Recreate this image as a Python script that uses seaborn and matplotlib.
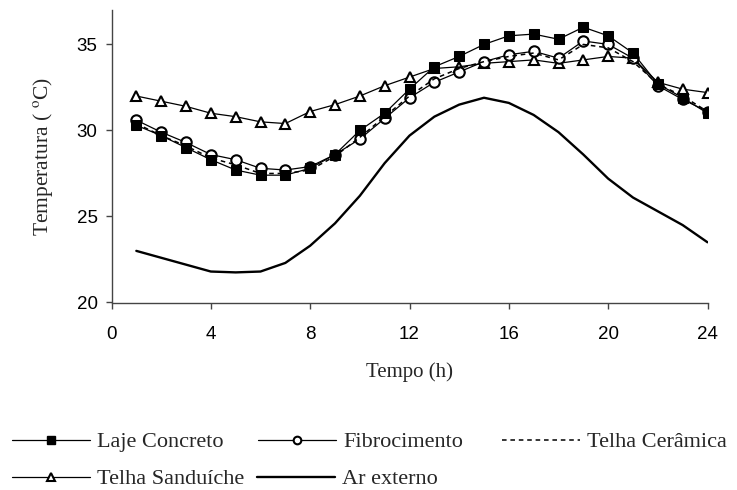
import numpy as np
import pandas as pd
import seaborn as sns
import matplotlib
matplotlib.use("Agg")
import matplotlib.pyplot as plt
import matplotlib.lines as mlines

hours = list(range(1, 25))
laje_concreto = [30.3, 29.7, 29.0, 28.3, 27.7, 27.4, 27.4, 27.8, 28.6, 30.0, 31.0, 32.4,
                 33.7, 34.3, 35.0, 35.5, 35.6, 35.3, 36.0, 35.5, 34.5, 32.7, 31.9, 31.0]
fibrocimento = [30.6, 29.9, 29.3, 28.6, 28.3, 27.8, 27.7, 27.9, 28.6, 29.5, 30.7, 31.9,
                32.8, 33.4, 34.0, 34.4, 34.6, 34.2, 35.2, 35.0, 34.2, 32.6, 31.8, 31.1]
telha_ceramica = [30.4, 29.7, 29.1, 28.4, 28.0, 27.5, 27.5, 27.7, 28.5, 29.6, 30.8, 32.0,
                  33.0, 33.6, 34.0, 34.3, 34.5, 34.1, 35.0, 34.8, 34.0, 32.7, 32.0, 31.1]
telha_sanduiche = [32.0, 31.7, 31.4, 31.0, 30.8, 30.5, 30.4, 31.1, 31.5, 32.0, 32.6, 33.1,
                   33.6, 33.7, 33.9, 34.0, 34.1, 33.9, 34.1, 34.3, 34.2, 32.8, 32.4, 32.2]
ar_externo = [23.0, 22.6, 22.2, 21.8, 21.75, 21.8, 22.3, 23.3, 24.6, 26.2, 28.1, 29.7,
              30.8, 31.5, 31.9, 31.6, 30.9, 29.9, 28.6, 27.2, 26.1, 25.3, 24.5, 23.5]

series_names = ["Laje Concreto", "Fibrocimento", "Telha Cerâmica", "Telha Sanduíche", "Ar externo"]
x_ticks = [0, 4, 8, 12, 16, 20, 24]
y_ticks = [20, 25, 30, 35]

df = pd.DataFrame({
    "Tempo": hours * 5,
    "Temp": laje_concreto + fibrocimento + telha_ceramica + telha_sanduiche + ar_externo,
    "Serie": sum([[n] * 24 for n in series_names], []),
})

sns.set_style("ticks")
plt.rcParams["font.family"] = ["Liberation Sans", "DejaVu Sans"]
plt.rcParams["mathtext.fontset"] = "stix"

fig = plt.figure(figsize=(7.37, 4.90), dpi=100)
ax = fig.add_axes([111.5 / 737, 1 - 302.5 / 490, (707.5 - 111.5) / 737, (302.5 - 10) / 490])

styles = {
    "Laje Concreto": dict(marker="s", markersize=7, markerfacecolor="black", markeredgecolor="black",
                          linewidth=0.9, linestyle="-"),
    "Fibrocimento": dict(marker="o", markersize=7.5, markerfacecolor="white", markeredgecolor="black",
                         markeredgewidth=1.5, linewidth=0.9, linestyle="-"),
    "Telha Cerâmica": dict(marker=None, linewidth=1.1, linestyle=(0, (3, 2.5))),
    "Telha Sanduíche": dict(marker="^", markersize=7, markerfacecolor="white", markeredgecolor="black",
                            markeredgewidth=1.5, linewidth=0.9, linestyle="-"),
    "Ar externo": dict(marker=None, linewidth=1.7, linestyle="-"),
}

for name in ["Ar externo", "Telha Sanduíche", "Fibrocimento", "Telha Cerâmica", "Laje Concreto"]:
    sub = df[df["Serie"] == name]
    sns.lineplot(data=sub, x="Tempo", y="Temp", ax=ax, color="black", **styles[name])

ax.set_xlim(0, 24)
ax.set_ylim(20, 37)
ax.set_xticks(x_ticks)
ax.set_yticks(y_ticks)
ax.tick_params(axis="both", direction="out", length=4, width=1, colors="#444444",
               labelsize=13.5, labelcolor="black", pad=6)
ax.tick_params(axis="x", pad=13)
for side in ["top", "right"]:
    ax.spines[side].set_visible(False)
for side in ["left", "bottom"]:
    ax.spines[side].set_color("#444444")
    ax.spines[side].set_linewidth(1.0)

serif = ["Liberation Serif", "DejaVu Serif"]
ax.set_xlabel("Tempo (h)", family=serif, fontsize=15)
ax.set_ylabel(r"Temperatura ( $^{\rm o}$C)", family=serif, fontsize=15.5)
ax.yaxis.set_label_coords(-0.095, 0.5)
ax.xaxis.set_label_coords(0.5, -0.205)

legend_pos = {
    "Laje Concreto": (12, 442),
    "Fibrocimento": (258, 442),
    "Telha Cerâmica": (502, 442),
    "Telha Sanduíche": (12, 479),
    "Ar externo": (257, 479),
}
fs = 16
for name, (px, py) in legend_pos.items():
    st = dict(styles[name])
    if st.get("marker"):
        st["markersize"] = 5.5
    h = mlines.Line2D([], [], color="black", **st)
    fig.legend([h], [name], loc="center left", bbox_to_anchor=(px / 737, 1 - py / 490),
               frameon=False, borderpad=0, borderaxespad=0, handlelength=78 / (fs * 1.389),
               handletextpad=7 / (fs * 1.389), prop={"family": serif, "size": fs})

fig.savefig("out.png", dpi=100)
